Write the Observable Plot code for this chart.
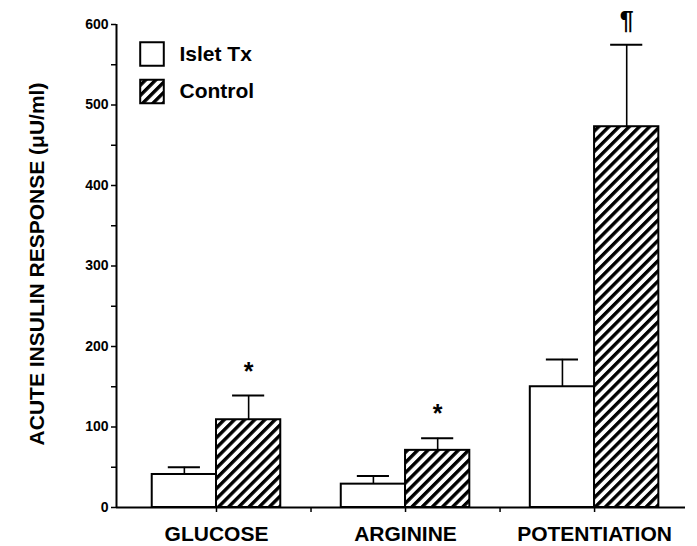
<!DOCTYPE html>
<html><head><meta charset="utf-8">
<script src="https://cdn.jsdelivr.net/npm/d3@7"></script>
<script src="https://cdn.jsdelivr.net/npm/@observablehq/plot@0.6"></script>
<style>
body{margin:0;background:#fff}
#chart{width:697px;height:546px}
</style>
</head><body><div id="chart"></div>
<script>
// ---- data ----
const groups = ["GLUCOSE", "ARGININE", "POTENTIATION"];
const seriesNames = ["Islet Tx", "Control"];
const isletTx = [41, 29, 150];
const isletTxSem = [9, 10, 34];
const control = [109, 71, 473];
const controlSem = [30, 15, 102];
const controlMarks = ["*", "*", "¶"];
const yTicks = [0, 100, 200, 300, 400, 500, 600];
const yMinorTicks = [50, 150, 250, 350, 450, 550];
const xTicks = [0, 0.5, 1, 1.5, 2];
const yTitle = "ACUTE INSULIN RESPONSE (\u03bcU/ml)";

// layout
const xDomain = [-0.529, 2.481];
const halfBar = 0.34;
const capHalf = 0.085;
const font = "'Liberation Sans', Arial, Helvetica, sans-serif";

const rows = [];
groups.forEach((g, i) => {
  rows.push({group: g, i, series: seriesNames[0], value: isletTx[i], sem: isletTxSem[i], x1: i - halfBar, x2: i, mark: ""});
  rows.push({group: g, i, series: seriesNames[1], value: control[i], sem: controlSem[i], x1: i, x2: i + halfBar, mark: controlMarks[i]});
});
const isletRows = rows.filter(d => d.series === seriesNames[0]);
const controlRows = rows.filter(d => d.series === seriesNames[1]);
const mid = d => (d.x1 + d.x2) / 2;

const plot = Plot.plot({
  width: 697,
  height: 546,
  marginLeft: 116,
  marginRight: 12,
  marginTop: 24,
  marginBottom: 39,
  style: {fontFamily: font, fontWeight: "bold", background: "white", color: "black"},
  x: {domain: xDomain, axis: null},
  y: {domain: [0, 600], axis: null},
  marks: [
    // error bars
    Plot.ruleX(rows, {x: mid, y1: "value", y2: d => d.value + d.sem, stroke: "black", strokeWidth: 1.6}),
    Plot.ruleY(rows, {y: d => d.value + d.sem, x1: d => mid(d) - capHalf, x2: d => mid(d) + capHalf, stroke: "black", strokeWidth: 2}),
    // bars
    Plot.rectY(isletRows, {x1: "x1", x2: "x2", y1: 0, y2: "value", fill: "white", stroke: "black", strokeWidth: 2}),
    Plot.rectY(controlRows, {x1: "x1", x2: "x2", y1: 0, y2: "value", fill: "url(#hatch)", stroke: "black", strokeWidth: 2}),
    // significance marks
    Plot.text(controlRows, {x: mid, y: d => d.value + d.sem, text: "mark", dy: -24, fontSize: 25, fontWeight: "bold", lineAnchor: "middle"}),
    // axes
    Plot.ruleX(xDomain.slice(0, 1), {y1: 0, y2: 600, stroke: "black", strokeWidth: 2}),
    Plot.ruleY([0], {stroke: "black", strokeWidth: 2}),
    Plot.axisY({ticks: yTicks, tickSize: 5, tickPadding: 3, fontSize: 14, fontWeight: "bold", label: null, strokeWidth: 1.5}),
    Plot.axisY({ticks: yMinorTicks, tickSize: 5, tickFormat: () => "", label: null, strokeWidth: 1.5}),
    Plot.axisX({ticks: xTicks, tickSize: 5, tickPadding: 14, fontSize: 21, fontWeight: "bold", label: null, strokeWidth: 1.5,
      tickFormat: d => Number.isInteger(d) ? groups[d] : ""}),
    Plot.text([yTitle], {frameAnchor: "left", textAnchor: "middle", rotate: -90, dx: -79, dy: -2, fontSize: 21, fontWeight: "bold"}),
    // legend
    Plot.dot([seriesNames[0]], {frameAnchor: "top-left", dx: 35.5, dy: 29.5, symbol: "square", r: 13.3, fill: "white", stroke: "black", strokeWidth: 2}),
    Plot.dot([seriesNames[1]], {frameAnchor: "top-left", dx: 35.5, dy: 67, symbol: "square", r: 13.3, fill: "url(#hatch)", stroke: "black", strokeWidth: 2}),
    Plot.text([seriesNames[0]], {text: d => d, frameAnchor: "top-left", dx: 63, dy: 29.5, textAnchor: "start", lineAnchor: "middle", fontSize: 21, fontWeight: "bold"}),
    Plot.text([seriesNames[1]], {text: d => d, frameAnchor: "top-left", dx: 63, dy: 67, textAnchor: "start", lineAnchor: "middle", fontSize: 21, fontWeight: "bold"})
  ]
});

// hatch pattern definition
const defs = d3.select(plot).insert("defs", ":first-child");
const pat = defs.append("pattern")
  .attr("id", "hatch")
  .attr("patternUnits", "userSpaceOnUse")
  .attr("width", 7.2)
  .attr("height", 7.2)
  .attr("patternTransform", "rotate(45)");
pat.append("rect").attr("width", 7.2).attr("height", 7.2).attr("fill", "white");
pat.append("rect").attr("width", 3.4).attr("height", 7.2).attr("fill", "black");

document.getElementById("chart").appendChild(plot);
</script>
</body></html>
